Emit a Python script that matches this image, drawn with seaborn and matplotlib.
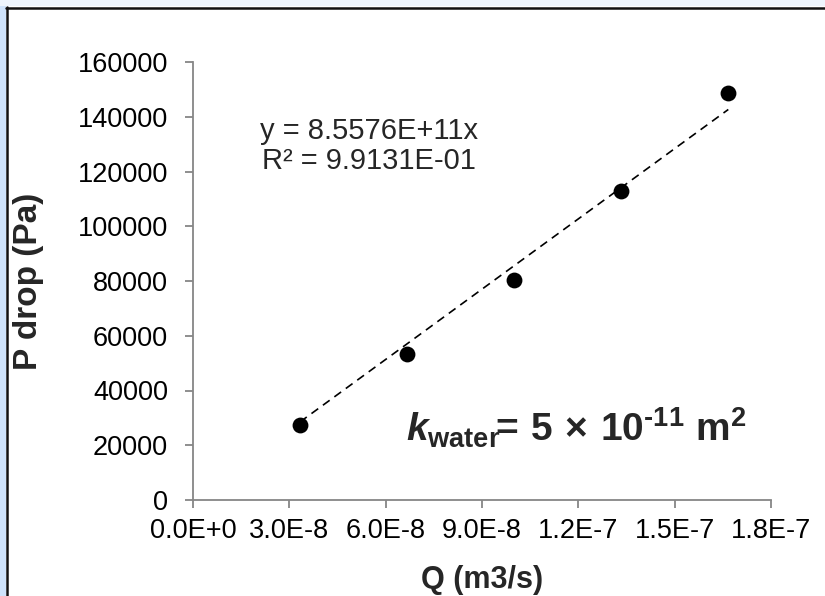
import numpy as np
import pandas as pd
import matplotlib
matplotlib.use("Agg")
import matplotlib.pyplot as plt
from matplotlib.patches import Rectangle
from matplotlib.lines import Line2D
import seaborn as sns

# ---- data ----
flow_q = [3.333e-8, 6.667e-8, 1.0e-7, 1.333e-7, 1.667e-7]
p_drop = [27300, 53500, 80500, 112800, 148500]
trend_slope = 8.5576e11
x_ticks = [0.0, 3.0e-8, 6.0e-8, 9.0e-8, 1.2e-7, 1.5e-7, 1.8e-7]
x_tick_labels = ["0.0E+0", "3.0E-8", "6.0E-8", "9.0E-8", "1.2E-7", "1.5E-7", "1.8E-7"]
y_ticks = [0, 20000, 40000, 60000, 80000, 100000, 120000, 140000, 160000]
y_tick_labels = ["0", "20000", "40000", "60000", "80000", "100000", "120000", "140000", "160000"]
eq_text = "y = 8.5576E+11x\nR² = 9.9131E-01"

sns.set_theme(style="white")
plt.rcParams["font.family"] = ["Liberation Sans", "DejaVu Sans"]
plt.rcParams["mathtext.fontset"] = "custom"
plt.rcParams["mathtext.rm"] = "Liberation Sans:bold"
plt.rcParams["mathtext.bf"] = "Liberation Sans:bold"
plt.rcParams["mathtext.it"] = "Liberation Sans:bold:italic"

W, H = 825, 596
fig = plt.figure(figsize=(W / 100, H / 100), dpi=100)
fig.patch.set_facecolor("white")

# frame decoration (light-blue margins + black border)
fig.add_artist(Rectangle((0, 0), 6 / W, 1, transform=fig.transFigure,
                         facecolor="#cfe3fb", edgecolor="none", zorder=0))
fig.add_artist(Rectangle((0, 1 - 6 / H), 1, 6 / H, transform=fig.transFigure,
                         facecolor="#eef5fd", edgecolor="none", zorder=0))
fig.add_artist(Line2D([7 / W, 7 / W], [0, 1 - 7 / H], transform=fig.transFigure,
                      color="#111111", lw=1.8, zorder=1))
fig.add_artist(Line2D([6 / W, 1], [1 - 7.5 / H, 1 - 7.5 / H], transform=fig.transFigure,
                      color="#111111", lw=1.8, zorder=1))

ax = fig.add_axes([193 / W, 1 - 500 / H, (771 - 193) / W, (500 - 62) / H])
ax.set_facecolor("none")

df = pd.DataFrame({"Q": flow_q, "P": p_drop})
trend = pd.DataFrame({"Q": [min(flow_q), max(flow_q)]})
trend["P"] = trend["Q"] * trend_slope

sns.lineplot(data=trend, x="Q", y="P", ax=ax, color="black", lw=1.2,
             linestyle=(0, (5, 3.5)), zorder=2)
sns.scatterplot(data=df, x="Q", y="P", ax=ax, color="black", s=130,
                edgecolor="black", linewidth=0, zorder=3)

ax.set_xlim(0, 1.8e-7)
ax.set_ylim(0, 160000)
ax.set_xticks(x_ticks)
ax.set_xticklabels(x_tick_labels)
ax.set_yticks(y_ticks)
ax.set_yticklabels(y_tick_labels)

for s in ["top", "right"]:
    ax.spines[s].set_visible(False)
for s in ["left", "bottom"]:
    ax.spines[s].set_color("#868686")
    ax.spines[s].set_linewidth(1.3)
ax.tick_params(axis="both", which="major", direction="out", length=6, width=1.3,
               color="#868686", labelsize=19.5, labelcolor="black")
ax.tick_params(axis="y", pad=12)
ax.tick_params(axis="x", pad=7)
ax.tick_params(left=True, bottom=True)

ax.set_xlabel("Q (m3/s)", fontsize=22, fontweight="bold")
ax.xaxis.set_label_coords(0.5, -0.148)
ax.set_ylabel("P drop (Pa)", fontsize=24, fontweight="bold")
ax.yaxis.set_label_coords((44 - 193) / (771 - 193), 0.5)

fig.text(369 / W, 1 - 146 / H, eq_text, ha="center", va="center",
         fontsize=21, linespacing=1.05, multialignment="center")

fig.text(576 / W, 1 - 428 / H,
         r"$k_{\mathrm{water}}\!\!=\,5\,\times\,10^{\text{-11}}\ \mathrm{m}^{2}$",
         ha="center", va="center", fontsize=28)

fig.savefig("out.png", dpi=100, facecolor=fig.get_facecolor())
